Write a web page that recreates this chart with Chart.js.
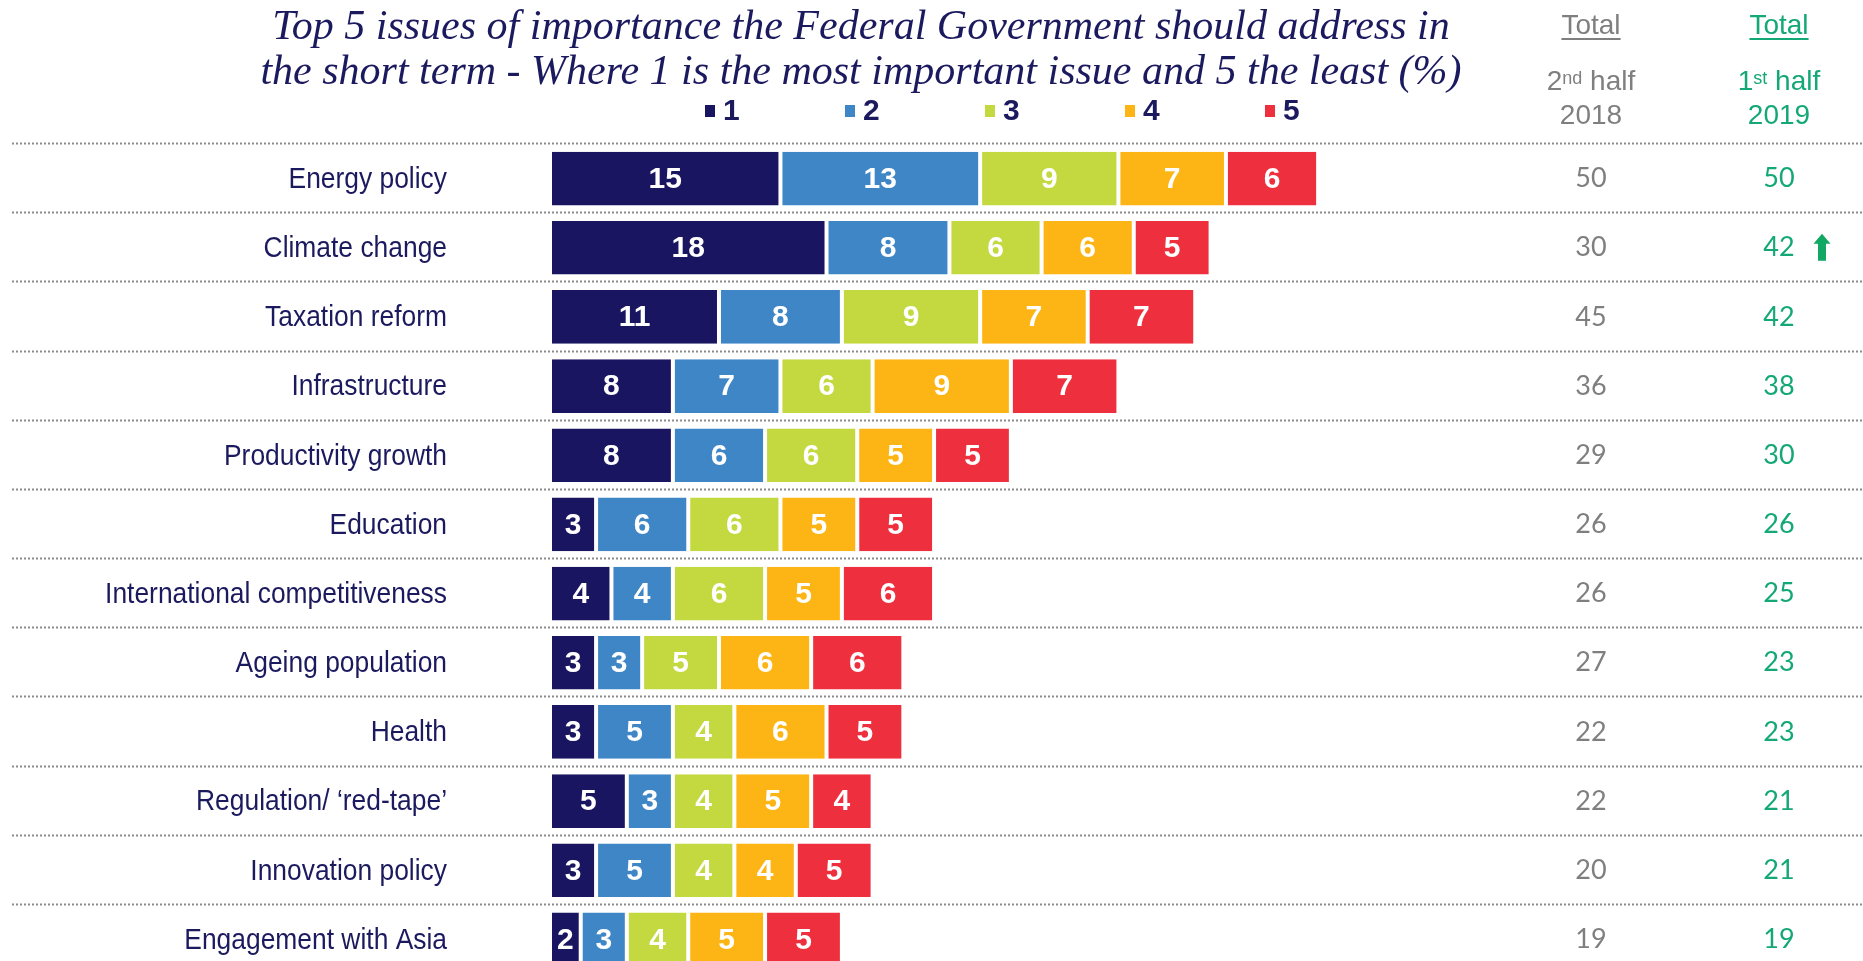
<!DOCTYPE html>
<html>
<head>
<meta charset="utf-8">
<title>Top 5 issues</title>
<script src="https://cdn.jsdelivr.net/npm/chart.js@4.4.1/dist/chart.umd.min.js"></script>
<style>
  html, body { margin: 0; padding: 0; background: #fff; overflow: hidden; }
  #wrap { position: relative; width: 1863px; height: 961px; overflow: hidden; }
  #issuesChart { position: absolute; left: 0; top: 0; }
  .title {
    position: absolute; left: 161px; top: 3px; width: 1400px; text-align: center; white-space: nowrap;
    font-family: 'Liberation Serif', 'DejaVu Serif', serif; font-style: italic;
    font-size: 42px; line-height: 45px; color: #1c1a5e;
  }
  .head {
    position: absolute; width: 200px; text-align: center;
    font-family: 'Liberation Sans', Arial, sans-serif; font-size: 28px; line-height: 34px;
  }
  .head sup { font-size: 18px; position: relative; top: -3px; vertical-align: top; }
  .grey { color: #7f7f7f; }
  .green { color: #14a876; }
  .under { text-decoration: underline; text-underline-offset: 4px; text-decoration-thickness: 2px; }
</style>
</head>
<body>
<div id="wrap">
  <canvas id="issuesChart" width="1863" height="1000"></canvas>
  <div class="title">Top 5 issues of importance the Federal Government should address in<br>the short term - Where 1 is the most important issue and 5 the least (%)</div>

  <div class="head grey under" style="left:1491px; top:8px;">Total</div>
  <div class="head grey" style="left:1491px; top:64px;">2<sup>nd</sup> half</div>
  <div class="head grey" style="left:1491px; top:98px;">2018</div>

  <div class="head green under" style="left:1679px; top:8px;">Total</div>
  <div class="head green" style="left:1679px; top:64px;">1<sup>st</sup> half</div>
  <div class="head green" style="left:1679px; top:98px;">2019</div>
</div>

<script>
const categories = [
    'Energy policy', 'Climate change', 'Taxation reform', 'Infrastructure',
    'Productivity growth', 'Education', 'International competitiveness',
    'Ageing population', 'Health', 'Regulation/ \u2018red-tape\u2019',
    'Innovation policy', 'Engagement with Asia'
];

const rank1 = [15, 18, 11, 8, 8, 3, 4, 3, 3, 5, 3, 2];
const rank2 = [13, 8, 8, 7, 6, 6, 4, 3, 5, 3, 5, 3];
const rank3 = [9, 6, 9, 6, 6, 6, 6, 5, 4, 4, 4, 4];
const rank4 = [7, 6, 7, 9, 5, 5, 5, 6, 6, 5, 4, 5];
const rank5 = [6, 5, 7, 7, 5, 5, 6, 6, 5, 4, 5, 5];

const total2018 = [50, 30, 45, 36, 29, 26, 26, 27, 22, 22, 20, 19];
const total2019 = [50, 42, 42, 38, 30, 26, 25, 23, 23, 21, 21, 19];
const risingRows = ['Climate change'];

const rankLabels = ['1', '2', '3', '4', '5'];
const rankColors = ['#1a1560', '#3f86c6', '#c3d93f', '#fdb515', '#ee2f3d'];

const navy = '#1c1a5e';
const grey = '#7f7f7f';
const green = '#14a876';
const sans = "'Liberation Sans', Arial, sans-serif";

// dotted separators between rows, running across the whole width
const rowLines = {
    id: 'rowLines',
    beforeDatasetsDraw(chart) {
        const { ctx, chartArea } = chart;
        const step = (chartArea.bottom - chartArea.top) / categories.length;
        ctx.save();
        ctx.strokeStyle = '#8c8c8c';
        ctx.lineWidth = 2;
        ctx.setLineDash([2, 2]);
        for (let i = 0; i <= categories.length; i++) {
            const y = Math.round(chartArea.top + i * step) - 0.5;
            ctx.beginPath();
            ctx.moveTo(12, y);
            ctx.lineTo(chart.width, y);
            ctx.stroke();
        }
        ctx.restore();
    }
};

// row names, set slightly condensed like the original deck
const rowNames = {
    id: 'rowNames',
    afterDraw(chart) {
        const { ctx } = chart;
        const yScale = chart.scales.y;
        ctx.save();
        ctx.fillStyle = navy;
        ctx.font = '30px ' + sans;
        ctx.textAlign = 'right';
        ctx.textBaseline = 'middle';
        categories.forEach((c, i) => {
            ctx.save();
            ctx.translate(447, yScale.getPixelForValue(i) + 1);
            ctx.scale(0.88, 1);
            ctx.fillText(c, 0, 0);
            ctx.restore();
        });
        ctx.restore();
    }
};

// value labels inside each segment
const segmentLabels = {
    id: 'segmentLabels',
    afterDatasetsDraw(chart) {
        const { ctx } = chart;
        ctx.save();
        ctx.fillStyle = '#fff';
        ctx.font = 'bold 30px ' + sans;
        ctx.textAlign = 'center';
        ctx.textBaseline = 'middle';
        chart.data.datasets.forEach((ds, di) => {
            chart.getDatasetMeta(di).data.forEach((bar, i) => {
                const cx = (bar.x + bar.base) / 2;
                ctx.fillText(String(ds.data[i]), cx, bar.y + 1);
            });
        });
        ctx.restore();
    }
};

// legend row under the title
const rankLegend = {
    id: 'rankLegend',
    afterDraw(chart) {
        const { ctx } = chart;
        ctx.save();
        ctx.font = 'bold 30px ' + sans;
        ctx.textBaseline = 'middle';
        rankLabels.forEach((lab, i) => {
            const x = 705 + i * 140;
            ctx.fillStyle = rankColors[i];
            ctx.fillRect(x, 105, 10, 12);
            ctx.fillStyle = navy;
            ctx.fillText(lab, x + 18, 112);
        });
        ctx.restore();
    }
};

// totals columns on the right and the rise marker
const totalsColumns = {
    id: 'totalsColumns',
    afterDraw(chart) {
        const { ctx } = chart;
        const yScale = chart.scales.y;
        ctx.save();
        ctx.font = '27px Lato, "Open Sans", sans-serif';
        ctx.textAlign = 'center';
        ctx.textBaseline = 'middle';
        categories.forEach((c, i) => {
            const y = yScale.getPixelForValue(i);
            ctx.fillStyle = grey;
            ctx.fillText(String(total2018[i]), 1591, y);
            ctx.fillStyle = green;
            ctx.fillText(String(total2019[i]), 1779, y);
            if (risingRows.includes(c)) {
                const ax = 1822, top = y - 14, bottom = y + 13;
                ctx.fillStyle = '#10a862';
                ctx.beginPath();
                ctx.moveTo(ax, top);
                ctx.lineTo(ax + 8.5, top + 10);
                ctx.lineTo(ax + 4, top + 10);
                ctx.lineTo(ax + 4, bottom);
                ctx.lineTo(ax - 4, bottom);
                ctx.lineTo(ax - 4, top + 10);
                ctx.lineTo(ax - 8.5, top + 10);
                ctx.closePath();
                ctx.fill();
            }
        });
        ctx.restore();
    }
};

const series = [rank1, rank2, rank3, rank4, rank5];

new Chart(document.getElementById('issuesChart'), {
    type: 'bar',
    data: {
        labels: categories,
        datasets: series.map((vals, i) => ({
            label: rankLabels[i],
            data: vals,
            backgroundColor: rankColors[i],
            borderColor: '#ffffff',
            borderWidth: { left: 2, right: 2, top: 0, bottom: 0 },
            borderSkipped: false,
            categoryPercentage: 1,
            barPercentage: 0.775
        }))
    },
    options: {
        indexAxis: 'y',
        responsive: false,
        animation: false,
        layout: { padding: { top: 144, bottom: 26, left: 0, right: 84 } },
        scales: {
            x: { stacked: true, min: 0, max: 80, display: false },
            y: {
                stacked: true,
                grid: { display: false, drawTicks: false },
                border: { display: false },
                ticks: { display: false },
                afterFit(scale) { scale.width = 550; }
            }
        },
        plugins: {
            legend: { display: false },
            tooltip: { enabled: false }
        }
    },
    plugins: [rowLines, segmentLabels, rowNames, rankLegend, totalsColumns]
});
</script>
</body>
</html>
